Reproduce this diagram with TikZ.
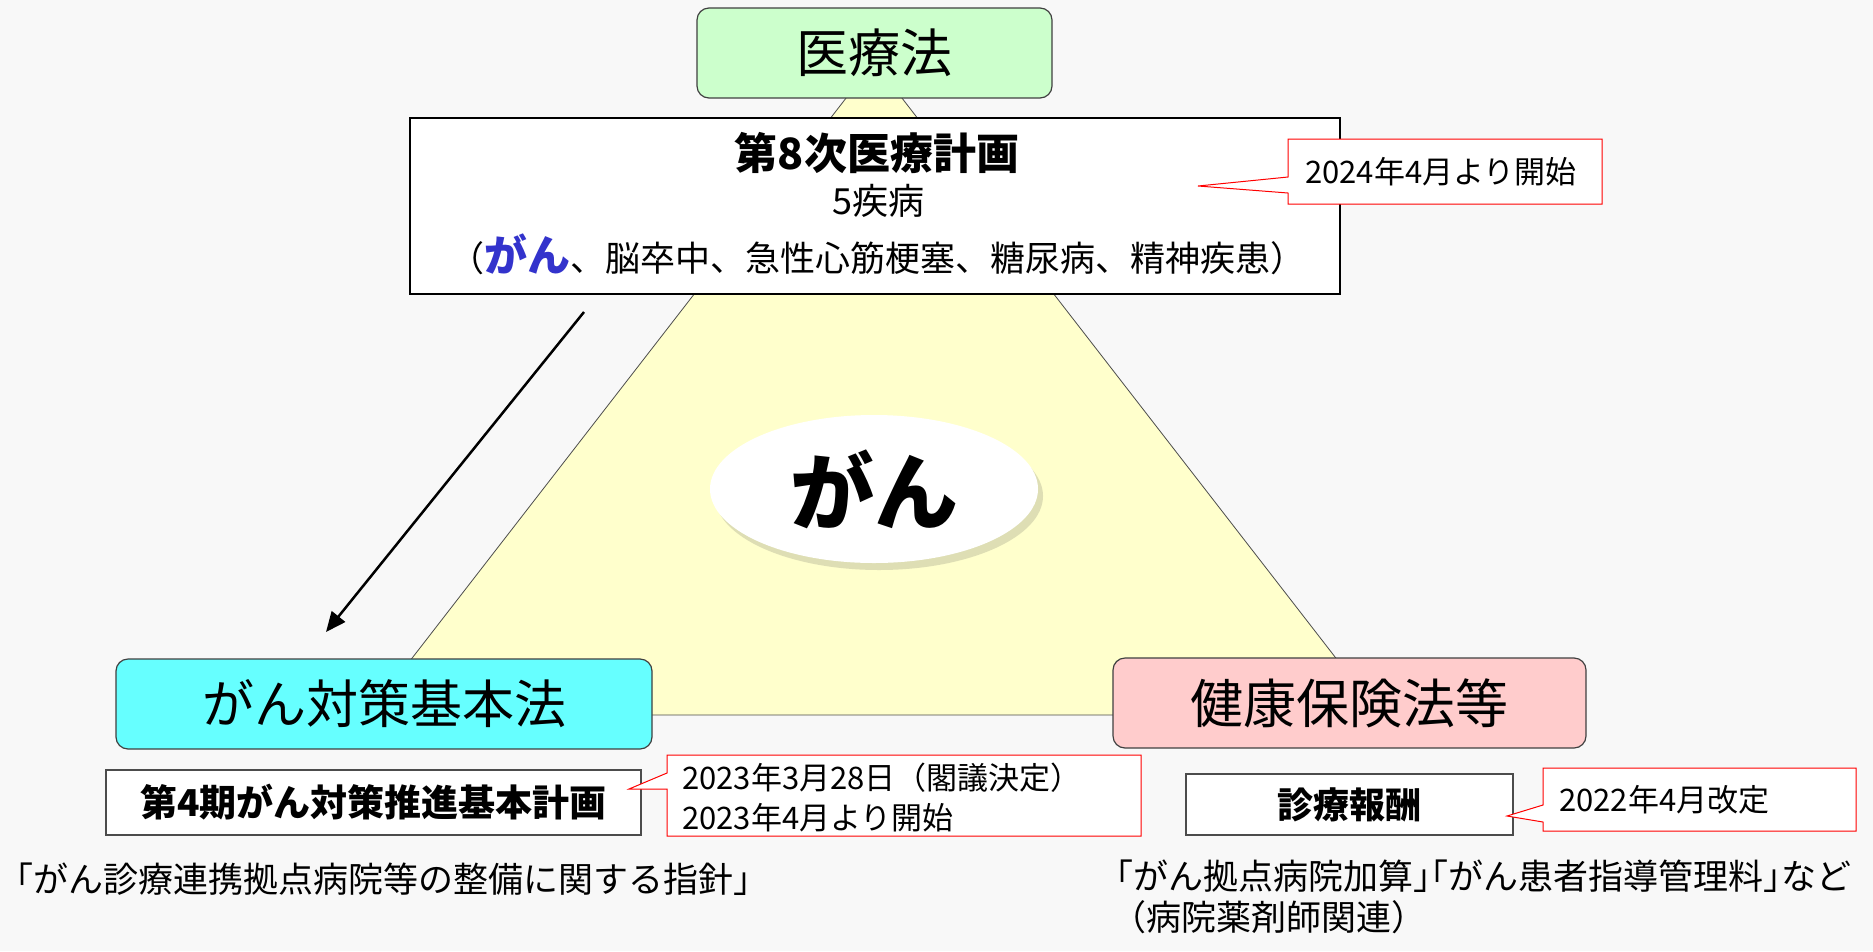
\documentclass[tikz,border=0pt]{standalone}
\usepackage{fontspec}
\setmainfont{Noto Sans CJK JP}
\usetikzlibrary{arrows.meta,shadows,shapes.geometric}
\definecolor{bgc}{HTML}{F8F8F8}
\definecolor{tric}{HTML}{FFFFCC}
\definecolor{greenc}{HTML}{CCFFCC}
\definecolor{cyanc}{HTML}{66FFFF}
\definecolor{pinkc}{HTML}{FFCCCC}
\definecolor{bluec}{HTML}{3333CC}
\newcommand{\fs}[1]{\fontsize{#1}{#1}\selectfont}
\newcommand{\ob}{{\addfontfeatures{RawFeature=+halt}「}}
\newcommand{\cb}{{\addfontfeatures{RawFeature=+halt}」}}
\begin{document}
\begin{tikzpicture}[x=1pt,y=-1pt,
  lawbox/.style={draw=black!75, line width=1.2pt, rounded corners=12pt, inner sep=0pt, font=\fs{52}},
  plainbox/.style={draw=black, line width=1.2pt, fill=white, inner sep=0pt},
  calloutbox/.style={draw=red, line width=1pt, fill=white, line join=miter},
  txt/.style={inner sep=0pt, text=black},
]
\fill[bgc] (0,0) rectangle (1873,951);
\useasboundingbox (0,0) rectangle (1873,951);

% triangle
\coordinate (apex) at (874,62);
\coordinate (bl) at (368,715);
\coordinate (br) at (1380,715);
\draw[fill=tric, draw=black!70, line width=0.8pt] (apex) -- (bl) -- (br) -- cycle;

% central ellipse
\node[ellipse, fill=white, minimum width=328pt, minimum height=148pt, inner sep=0pt,
  drop shadow={shadow xshift=5pt, shadow yshift=-7pt, opacity=0.18, fill=black!70}]
  (gan) at (874,489) {\fs{84}\bfseries がん};

% law boxes
\node[lawbox, fill=greenc, minimum width=355pt, minimum height=90pt] (iryo) at (874.5,53) {医療法};
\node[lawbox, fill=cyanc, minimum width=536pt, minimum height=90pt] (taisaku) at (384,704) {がん対策基本法};
\node[lawbox, fill=pinkc, minimum width=473pt, minimum height=90pt, font=\fs{53}] (kenko) at (1349.5,703) {健康保険法等};

% 8th plan box
\node[plainbox, minimum width=930pt, minimum height=176pt] (plan8) at (875,206) {};
\node[txt, font=\fs{43}\bfseries] (plan8a) at (877,153) {第8次医療計画};
\node[txt, font=\fs{36}] (plan8b) at (878,201) {5疾病};
\node[txt, font=\fs{35}] (plan8c) at (877,254) {（{\fs{43}\bfseries\color{bluec}がん}、脳卒中、急性心筋梗塞、糖尿病、精神疾患）};

% callout 2024
\coordinate (tip2024) at (1198,186);
\draw[calloutbox] (1288,139) -- (1602,139) -- (1602,204) -- (1288,204) -- (1288,193) -- (tip2024) -- (1288,177) -- cycle;
\node[txt, anchor=west, font=\fs{31}] (c2024) at (1305,172) {2024年4月より開始};

% arrow
\coordinate (arS) at (584,312);
\coordinate (arE) at (326,632);
\draw[line width=2.5pt, -{Triangle[length=20pt,width=17pt]}] (arS) -- (arE);

% 4th plan box
\node[plainbox, draw=black!70, minimum width=535pt, minimum height=65pt, font=\fs{37}\bfseries] (plan4) at (373.5,802.5) {第4期がん対策推進基本計画};

% callout 2023
\coordinate (tip2023) at (629,789);
\draw[calloutbox] (667,755) -- (1141,755) -- (1141,836) -- (667,836) -- (667,789) -- (tip2023) -- (667,773) -- cycle;
\node[txt, anchor=west, font=\fs{31}] (c2023a) at (682,778) {2023年3月28日（閣議決定）};
\node[txt, anchor=west, font=\fs{31}] (c2023b) at (682,818) {2023年4月より開始};

% shinryo box
\node[plainbox, draw=black!70, minimum width=327pt, minimum height=61pt, font=\fs{36}\bfseries] (shinryo) at (1349.5,804.5) {診療報酬};

% callout 2022
\coordinate (tip2022) at (1507,816);
\draw[calloutbox] (1543,768) -- (1856,768) -- (1856,831) -- (1543,831) -- (1543,822) -- (tip2022) -- (1543,805) -- cycle;
\node[txt, anchor=west, font=\fs{31}] (c2022) at (1559,800) {2022年4月改定};

% bottom texts
\node[txt, anchor=west, font=\fs{35}] (shishin) at (16,879) {\ob がん診療連携拠点病院等の整備に関する指針\cb};
\node[txt, anchor=west, font=\fs{35}] (kasan) at (1116,876) {\ob がん拠点病院加算\cb\ob がん患者指導管理料\cb など};
\node[txt, anchor=west, font=\fs{35}] (yakuzai) at (1111,917) {（病院薬剤師関連）};
\end{tikzpicture}
\end{document}
